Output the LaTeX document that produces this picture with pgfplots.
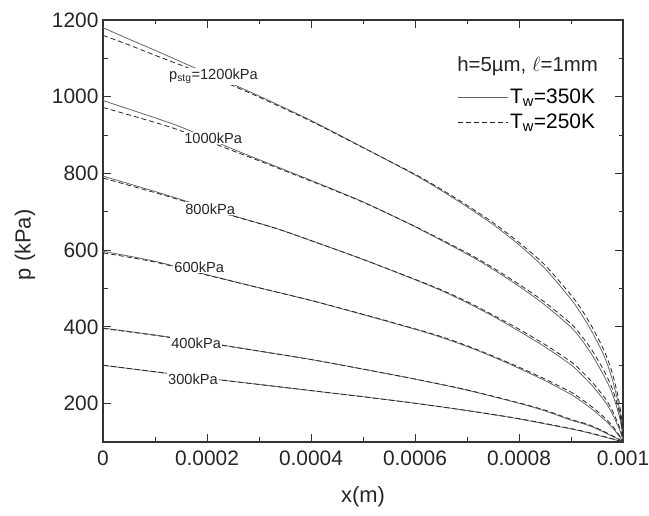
\documentclass[border=0pt]{standalone}
\usepackage{fontspec}
\setmainfont{Liberation Sans}
\usepackage{pgfplots}
\pgfplotsset{compat=1.18}
\begin{document}
\begin{tikzpicture}[x=1bp,y=1bp]
\useasboundingbox (0,0) rectangle (649,516);
\begin{axis}[
 at={(103bp,74bp)}, anchor=south west,
 scale only axis, width=520bp, height=422bp,
 xmin=0, xmax=0.001, ymin=100, ymax=1200,
 xtick={0,0.0002,0.0004,0.0006,0.0008,0.001},
 xticklabels={0,0.0002,0.0004,0.0006,0.0008,0.001},
 minor xtick={0.0001,0.0003,0.0005,0.0007,0.0009},
 ytick={200,400,600,800,1000,1200},
 yticklabels={200,400,600,800,1000,1200},
 minor ytick={300,500,700,900,1100},
 scaled x ticks=false,
 tick align=inside,
 major tick length=8bp, minor tick length=4.5bp,
 ticklabel style={font=\fontsize{21}{25}\selectfont, text=black!85},
 /pgf/number format/assume math mode=true,
 xticklabel style={yshift=-5bp},
 yticklabel style={xshift=-1bp},
 axis line style={black!80, line width=1.1bp},
 every tick/.style={black!80, line width=1bp},
 xlabel={x(m)}, ylabel={p (kPa)},
 label style={font=\fontsize{22}{26}\selectfont, text=black!85},
 xlabel style={at={(axis description cs:0.5,-0.130)}, anchor=center},
 ylabel style={at={(axis description cs:-0.150,0.467)}, anchor=center},
 legend style={at={(rel axis cs:0.681,0.842)}, anchor=north west, draw=none, fill=none,
   font=\fontsize{21}{25}\selectfont, inner sep=0pt, row sep=5bp, cells={anchor=west}},
 legend image code/.code={\draw[#1] (0bp,0bp) -- (50bp,0bp);},
 solidc/.style={black!60, line width=0.8bp},
 dashc/.style={black!85, line width=0.8bp, dash pattern=on 5bp off 3bp},
 every axis plot/.append style={smooth, tension=0.45},
]
% 1200 kPa
\addplot[solidc, forget plot] coordinates {(0,1180)(0.00005,1150)(0.0001,1121)(0.00017,1079)(0.00023,1044)(0.0003,1002)(0.0004,938)(0.0005,868)(0.0006,796)(0.00065,756)(0.0007,713)(0.00075,667)(0.0008,614)(0.00085,552)(0.0009,472)(0.00092,433)(0.00094,388)(0.00096,335)(0.00097,302)(0.00098,260)(0.00099,207)(0.000995,170)(0.000998,140)(0.001,100)};
\addplot[dashc, forget plot] coordinates {(0,1160)(0.00005,1135)(0.0001,1108)(0.00017,1072)(0.00023,1040)(0.0003,999)(0.0004,936)(0.0005,867)(0.0006,798)(0.00065,759)(0.0007,717)(0.00075,672)(0.0008,620)(0.00085,561)(0.0009,483)(0.00092,446)(0.00094,401)(0.00096,349)(0.00097,317)(0.00098,277)(0.00099,222)(0.000995,184)(0.000998,152)(0.001,100)};
% 1000 kPa
\addplot[solidc, forget plot] coordinates {(0,990)(0.0001,945)(0.00015,921)(0.00024,869)(0.0003,836)(0.0004,782)(0.0005,726)(0.0006,661)(0.0007,590)(0.00075,550)(0.0008,506)(0.00085,457)(0.0009,399)(0.00092,367)(0.00094,328)(0.00096,281)(0.00097,255)(0.00098,224)(0.00099,182)(0.000995,155)(0.000998,130)(0.001,100)};
\addplot[dashc, forget plot] coordinates {(0,972)(0.0001,933)(0.00015,911)(0.00024,864)(0.0003,833)(0.0004,780)(0.0005,725)(0.0006,662)(0.0007,593)(0.00075,554)(0.0008,511)(0.00085,464)(0.0009,408)(0.00092,377)(0.00094,340)(0.00096,294)(0.00097,268)(0.00098,237)(0.00099,193)(0.000995,163)(0.000998,136)(0.001,100)};
% 800 kPa
\addplot[solidc, forget plot] coordinates {(0,793)(0.0001,753)(0.00015,732)(0.00025,690)(0.00033,658)(0.0004,625)(0.0005,576)(0.0006,523)(0.00065,495)(0.0007,463)(0.00075,428)(0.0008,389)(0.00085,348)(0.0009,301)(0.00092,276)(0.00094,248)(0.00096,215)(0.00097,196)(0.00098,172)(0.00099,143)(0.000995,126)(0.000998,114)(0.001,100)};
\addplot[dashc, forget plot] coordinates {(0,788)(0.0001,750)(0.00015,730)(0.00025,689)(0.00033,658)(0.0004,625)(0.0005,576)(0.0006,524)(0.00065,497)(0.0007,466)(0.00075,431)(0.0008,394)(0.00085,354)(0.0009,309)(0.00092,285)(0.00094,257)(0.00096,224)(0.00097,205)(0.00098,180)(0.00099,150)(0.000995,132)(0.000998,118)(0.001,100)};
% 600 kPa
\addplot[solidc, forget plot] coordinates {(0,597)(0.0001,571)(0.0002,536)(0.0003,502)(0.0004,469)(0.0005,432)(0.0006,394)(0.00065,373)(0.0007,349)(0.00075,322)(0.0008,292)(0.00085,260)(0.0009,224)(0.00092,206)(0.00094,186)(0.00096,163)(0.00097,151)(0.00098,137)(0.00099,120)(0.000995,111)(0.001,100)};
\addplot[dashc, forget plot] coordinates {(0,593)(0.0001,569)(0.0002,535)(0.0003,502)(0.0004,469)(0.0005,433)(0.0006,395)(0.00065,375)(0.0007,351)(0.00075,324)(0.0008,295)(0.00085,264)(0.0009,230)(0.00092,212)(0.00094,192)(0.00096,169)(0.00097,156)(0.00098,141)(0.00099,123)(0.000995,113)(0.001,100)};
% 400 kPa
\addplot[solidc, forget plot] coordinates {(0,397)(0.0001,379)(0.0002,359)(0.0003,337)(0.0004,315)(0.0005,290)(0.0006,264)(0.0007,235)(0.0008,201)(0.00085,181)(0.0009,157)(0.00093,145)(0.00095,134)(0.00097,121)(0.00099,108)(0.001,100)};
\addplot[dashc, forget plot] coordinates {(0,396)(0.0001,378)(0.0002,358)(0.0003,337)(0.0004,315)(0.0005,290)(0.0006,264)(0.0007,236)(0.0008,202)(0.00085,183)(0.0009,159)(0.00093,147)(0.00095,136)(0.00097,123)(0.00099,109)(0.001,100)};
% 300 kPa
\addplot[solidc, forget plot] coordinates {(0,300)(0.0001,283)(0.0002,266)(0.0003,250)(0.0004,234)(0.0005,218)(0.0006,201)(0.0007,182)(0.0008,160)(0.0009,134)(0.00093,125)(0.00095,118)(0.00097,111)(0.00099,104)(0.001,100)};
\addplot[dashc, forget plot] coordinates {(0,300)(0.0001,283)(0.0002,266)(0.0003,250)(0.0004,234)(0.0005,218)(0.0006,201)(0.0007,182)(0.0008,161)(0.0009,135)(0.00093,126)(0.00095,119)(0.00097,112)(0.00099,104)(0.001,100)};
\addlegendimage{solidc}
\addlegendentry{T\textsubscript{w}=350K}
\addlegendimage{dashc}
\addlegendentry{T\textsubscript{w}=250K}
% curve labels
\begin{scope}[every node/.style={font=\fontsize{14.7}{17}\selectfont, fill=white, inner sep=1bp, anchor=base west, text=black!85}]
\node at (axis cs:0.000125,1044) {p\textsubscript{stg}=1200kPa};
\node at (axis cs:0.000154,879) {1000kPa};
\node at (axis cs:0.000156,694) {800kPa};
\node at (axis cs:0.000135,543) {600kPa};
\node at (axis cs:0.000129,345) {400kPa};
\node at (axis cs:0.000123,251) {300kPa};
\end{scope}
\node[anchor=base west, font=\fontsize{20.5}{24}\selectfont, inner sep=0pt, text=black!85] at (rel axis cs:0.681,0.879) {h=5µm, $\ell$=1mm};
\end{axis}
\end{tikzpicture}
\end{document}
